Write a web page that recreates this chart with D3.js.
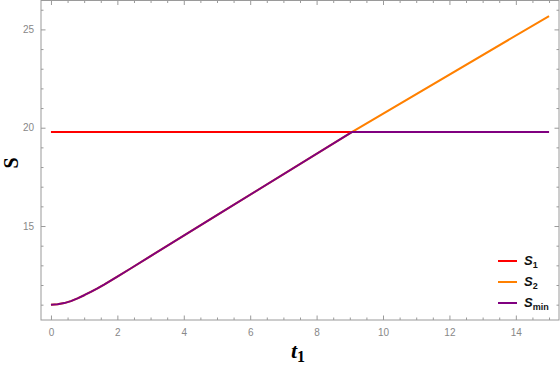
<!DOCTYPE html>
<html>
<head>
<meta charset="utf-8">
<script src="https://cdn.jsdelivr.net/npm/d3@7"></script>
<style>
  body { margin: 0; background: #fff; }
  svg { display: block; }
</style>
</head>
<body>
<svg id="chart" width="560" height="365"></svg>
<script>
// values
const s1T = [0, 15]
const s1S = [19.78, 19.78]

const s2T = [0, 0.2, 0.4, 0.6, 0.8, 1.0, 1.2, 1.4, 1.6, 1.8, 2.0, 2.4, 3, 5, 9.06, 15]
const s2S = [11.0, 11.02, 11.08, 11.18, 11.32, 11.48, 11.65, 11.83, 12.02, 12.22, 12.425, 12.84, 13.47, 15.55, 19.78, 25.68]

const sminT = [0, 0.2, 0.4, 0.6, 0.8, 1.0, 1.2, 1.4, 1.6, 1.8, 2.0, 2.4, 3, 5, 9.06, 15]
const sminS = [11.0, 11.02, 11.08, 11.18, 11.32, 11.48, 11.65, 11.83, 12.02, 12.22, 12.425, 12.84, 13.47, 15.55, 19.78, 19.78]

const xMajor = [0, 2, 4, 6, 8, 10, 12, 14]
const yMajor = [15, 20, 25]

const seriesNames = ['1', '2', 'min']
const seriesColors = ['#ff0000', '#ff8000', '#800080']

const svg = d3.select('#chart')
const plotLeft = 41, plotRight = 559, plotTop = 0.5, plotBottom = 320

const x = d3.scaleLinear().domain([-0.3, 15.3]).range([plotLeft, plotRight])
const y = d3.scaleLinear().domain([10.22, 26.47]).range([plotBottom, plotTop])

// minor ticks
const xMinor = d3.range(0, 15.01, 0.5).filter(v => !xMajor.includes(v))
const yMinor = d3.range(11, 26.5, 1).filter(v => !yMajor.includes(v))

const tickColor = '#9a9a9a'

// bottom axis (labels), ticks point inward
const gB = svg.append('g').attr('transform', `translate(0,${plotBottom})`)
gB.call(d3.axisBottom(x).tickValues(xMajor).tickSizeInner(-4.5).tickSizeOuter(0).tickPadding(9))
gB.append('g').call(d3.axisBottom(x).tickValues(xMinor).tickSizeInner(-2.5).tickSizeOuter(0).tickFormat(''))

// top axis, no labels
const gT = svg.append('g').attr('transform', `translate(0,${plotTop})`)
gT.call(d3.axisTop(x).tickValues(xMajor).tickSizeInner(-4.5).tickSizeOuter(0).tickFormat(''))
gT.append('g').call(d3.axisTop(x).tickValues(xMinor).tickSizeInner(-2.5).tickSizeOuter(0).tickFormat(''))

// left axis
const gL = svg.append('g').attr('transform', `translate(${plotLeft},0)`)
gL.call(d3.axisLeft(y).tickValues(yMajor).tickSizeInner(-4.5).tickSizeOuter(0).tickPadding(7))
gL.append('g').call(d3.axisLeft(y).tickValues(yMinor).tickSizeInner(-2.5).tickSizeOuter(0).tickFormat(''))

// right axis
const gR = svg.append('g').attr('transform', `translate(${plotRight},0)`)
gR.call(d3.axisRight(y).tickValues(yMajor).tickSizeInner(-4.5).tickSizeOuter(0).tickFormat(''))
gR.append('g').call(d3.axisRight(y).tickValues(yMinor).tickSizeInner(-2.5).tickSizeOuter(0).tickFormat(''))

svg.selectAll('.domain').remove()
svg.selectAll('.tick line').attr('stroke', tickColor)
svg.selectAll('.tick text')
  .attr('fill', '#888')
  .style('font-family', 'Liberation Sans, Arial, sans-serif')
  .style('font-size', '10px')

// frame
svg.append('rect')
  .attr('x', plotLeft).attr('y', plotTop)
  .attr('width', plotRight - plotLeft).attr('height', plotBottom - plotTop)
  .attr('fill', 'none').attr('stroke', tickColor).attr('stroke-width', 1)

// lines
const line = d3.line().x(d => x(d[0])).y(d => y(d[1]))
const series = [
  d3.zip(s1T, s1S),
  d3.zip(s2T, s2S),
  d3.zip(sminT, sminS)
]
series.forEach((pts, i) => {
  svg.append('path')
    .datum(pts)
    .attr('d', line)
    .attr('fill', 'none')
    .attr('stroke', seriesColors[i])
    .attr('stroke-width', 2)
    .attr('stroke-linejoin', 'round')
})

// legend
const legendY = [261, 282, 303]
const lg = svg.append('g')
seriesNames.forEach((name, i) => {
  lg.append('line')
    .attr('x1', 498).attr('x2', 517)
    .attr('y1', legendY[i]).attr('y2', legendY[i])
    .attr('stroke', seriesColors[i]).attr('stroke-width', 2)
  const t = lg.append('text')
    .attr('x', 524).attr('y', legendY[i] + 4)
    .style('font-family', 'Liberation Sans, Arial, sans-serif')
    .style('font-weight', 'bold')
    .style('font-size', '13px')
    .attr('fill', '#111')
  t.append('tspan').text('S').style('font-style', 'italic')
  t.append('tspan').text(name).attr('dy', 3).style('font-size', '9px')
})

// axis titles
svg.append('text')
  .attr('transform', `translate(18,163) rotate(-90)`)
  .attr('text-anchor', 'middle')
  .style('font-family', 'Liberation Serif, Times New Roman, serif')
  .style('font-weight', 'bold')
  .style('font-size', '20px')
  .text('S')

const xt = svg.append('text')
  .attr('x', 298).attr('y', 358)
  .attr('text-anchor', 'middle')
  .style('font-family', 'Liberation Serif, Times New Roman, serif')
  .style('font-weight', 'bold')
  .style('font-size', '22px')
xt.append('tspan').text('t').style('font-style', 'italic')
xt.append('tspan').text('1').attr('dy', 4).style('font-size', '16px')
</script>
</body>
</html>
